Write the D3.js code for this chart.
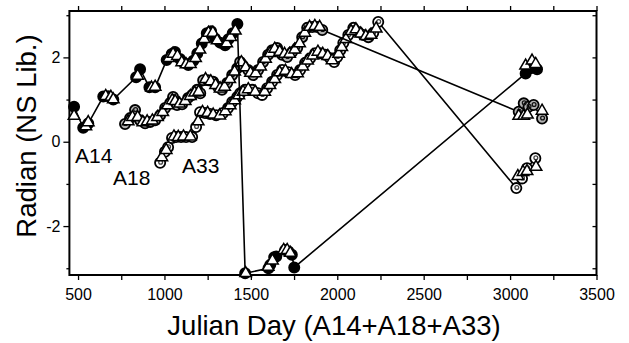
<!DOCTYPE html>
<html>
<head>
<meta charset="utf-8">
<script src="https://cdn.jsdelivr.net/npm/d3@7"></script>
<style>
    body { margin: 0; background: #fff; }
    svg text { font-family: "Liberation Sans", Arial, Helvetica, sans-serif; fill: #000; }
</style>
</head>
<body>
<svg id="chart" width="629" height="343"></svg>
<script>
// A14 (filled circles) : [julian day, radian]
const a14Circles = [[477,0.83],[530,0.33],[559,0.43],[646,1.07],[675,1.08],[704,1.0],[836,1.53],[859,1.72],[913,1.29],[946,1.29],
    [1013,1.94],[1042,2.08],[1061,2.13],[1090,1.96],[1110,1.88],[1138,1.82],[1167,1.92],[1190,2.09],[1216,2.33],[1245,2.57],
    [1270,2.62],[1293,2.45],[1322,2.35],[1351,2.29],[1370,2.43],[1395,2.57],[1422,2.79],
    [1467,-3.12],[1602,-3.0],[1612,-2.92],[1635,-2.74],[1647,-2.72],[1698,-2.57],[1718,-2.6],[1737,-2.68],[1751,-2.98],
    [3090,1.62],[3119,1.74],[3156,1.72]];
const a14Triangles = [[477,0.63],[545,0.38],[559,0.48],[660,1.1],[690,1.08],[704,1.02],[845,1.58],[925,1.3],[946,1.32],
    [1025,2.0],[1050,2.1],[1075,2.05],[1100,1.9],[1125,1.85],[1150,1.86],[1180,2.0],[1205,2.2],[1230,2.45],[1255,2.6],
    [1280,2.6],[1305,2.42],[1360,2.35],[1383,2.5],[1410,2.65],
    [1470,-3.1],[1600,-2.95],[1625,-2.8],[1690,-2.55],[1710,-2.55],[1728,-2.62],
    [3090,1.82],[3127,1.94],[3148,1.86]];

// A18 (hatched circles)
const a18Circles = [[772,0.42],[801,0.56],[830,0.75],[859,0.51],[888,0.44],[917,0.47],[946,0.51],[975,0.63],[1004,0.8],
    [1033,0.92],[1050,1.06],[1073,0.87],[1102,0.89],[1137,1.04],[1160,1.11],[1189,1.23],[1207,1.15],[1224,1.46],[1253,1.46],
    [1282,1.42],[1310,1.3],[1333,1.23],[1363,1.39],[1392,1.58],[1421,1.74],[1438,1.89],[1455,1.8],[1484,1.7],[1513,1.58],
    [1542,1.7],[1571,1.89],[1600,2.06],[1623,2.17],[1652,2.22],[1681,2.06],[1710,2.01],[1739,2.13],[1768,2.22],[1797,2.48],
    [1826,2.7],[1855,2.72],[1884,2.72],[1913,2.65],
    [3050,0.71],[3079,0.91],[3107,0.83],[3136,0.87],[3185,0.55]];
const a18Triangles = [[790,0.5],[815,0.6],[845,0.6],[875,0.48],[900,0.5],[930,0.52],[960,0.6],[990,0.72],[1018,0.88],
    [1045,1.0],[1062,0.98],[1088,0.92],[1120,0.98],[1150,1.1],[1175,1.18],[1198,1.2],[1238,1.5],[1268,1.45],[1296,1.36],
    [1322,1.28],[1348,1.32],[1378,1.5],[1406,1.68],[1445,1.9],[1470,1.78],[1498,1.65],[1528,1.64],[1556,1.8],[1585,1.98],
    [1612,2.12],[1638,2.22],[1667,2.15],[1695,2.1],[1724,2.1],[1754,2.2],[1782,2.35],[1812,2.6],[1840,2.74],[1870,2.76],
    [1898,2.74],[3050,0.63],[3079,0.63],[3100,0.66],[3185,0.75]];

// A33 (open circles)
const a33Circles = [[975,-0.5],[1003,-0.24],[1021,-0.13],[1044,0.09],[1067,0.11],[1096,0.11],[1125,0.11],[1160,0.11],
    [1183,0.35],[1206,0.7],[1235,0.68],[1264,0.66],[1299,0.63],[1339,0.68],[1368,0.8],[1392,0.94],[1421,1.06],[1438,1.15],
    [1467,1.23],[1507,1.23],[1542,1.15],[1565,1.11],[1594,1.27],[1623,1.42],[1652,1.58],[1681,1.7],[1716,1.65],[1756,1.58],
    [1785,1.7],[1814,1.87],[1843,1.98],[1872,2.1],[1901,2.1],[1930,2.06],[1959,1.98],[1982,1.89],[2000,2.01],[2017,2.17],
    [2035,2.34],[2064,2.53],[2093,2.7],[2122,2.6],[2151,2.53],[2180,2.48],[2208,2.58],[2237,2.84],
    [3036,-1.1],[3069,-0.87],[3098,-0.63],[3146,-0.39]];
const a33Triangles = [[985,-0.35],[1010,-0.18],[1055,0.14],[1080,0.13],[1110,0.14],[1150,0.14],[1195,0.5],[1220,0.72],
    [1250,0.7],[1282,0.66],[1320,0.64],[1352,0.74],[1380,0.88],[1406,1.0],[1430,1.12],[1455,1.2],[1485,1.26],[1525,1.2],
    [1580,1.2],[1610,1.36],[1638,1.5],[1667,1.66],[1700,1.7],[1736,1.62],[1770,1.64],[1800,1.8],[1828,1.94],[1858,2.06],
    [1888,2.15],[1916,2.1],[1945,2.05],[1970,1.95],[2008,2.1],[2026,2.26],[2050,2.45],[2080,2.64],[2108,2.68],[2136,2.58],
    [2165,2.52],[2195,2.55],[2225,2.7],[3045,-0.8],[3075,-0.7],[3098,-0.68],[3150,-0.58]];

const xTicks = [500, 1000, 1500, 2000, 2500, 3000, 3500];
const yTicks = [-2, 0, 2];
const seriesLabels = ['A14', 'A18', 'A33'];

let svg = d3.select('#chart');
const x = d3.scaleLinear().domain([450, 3500]).range([69.4, 596.5]);
const y = d3.scaleLinear().domain([-3.16, 3.1]).range([275, 11]);

// axes: labelled majors and short minors
const minorX = d3.range(500, 3501, 250);
const minorY = [-3, -1, 1, 3];

svg.append('g').attr('transform', 'translate(0,275)')
    .call(d3.axisBottom(x).tickValues(minorX).tickSize(5).tickFormat(d => xTicks.includes(d) ? d : ''));
svg.append('g').attr('transform', 'translate(0,11)')
    .call(d3.axisTop(x).tickValues(minorX).tickSize(5).tickFormat(''));
svg.append('g').attr('transform', 'translate(69.4,0)')
    .call(d3.axisLeft(y).tickValues(yTicks).tickSize(6).tickFormat(d => String(d)));
svg.append('g').attr('transform', 'translate(69.4,0)')
    .call(d3.axisLeft(y).tickValues(minorY).tickSize(3).tickFormat(''));
svg.append('g').attr('transform', 'translate(596.5,0)')
    .call(d3.axisRight(y).tickValues(yTicks.concat(minorY)).tickSize(-4).tickFormat(''));

svg.selectAll('.domain').remove();
svg.selectAll('.tick line').attr('stroke', '#000').attr('stroke-width', 1.3);
svg.selectAll('.tick text').attr('font-size', 16).attr('fill', '#000');
svg.selectAll('.tick text').filter(function () { return this.parentNode.parentNode.getAttribute('transform') === 'translate(0,275)'; })
    .attr('dy', '1.05em');

svg.append('rect')
    .attr('x', 69.4).attr('y', 11)
    .attr('width', 596.5 - 69.4).attr('height', 275 - 11)
    .attr('fill', 'none').attr('stroke', '#000').attr('stroke-width', 2);

const line = d3.line().x(d => x(d[0])).y(d => y(d[1]));

function drawSeries(circles, triangles, circleFill, innerDot) {
    svg.append('path').datum(circles)
        .attr('d', line).attr('fill', 'none').attr('stroke', '#000').attr('stroke-width', 1.6);

    let g = svg.append('g');
    g.selectAll('circle.pt').data(circles).enter().append('circle')
        .attr('class', 'pt')
        .attr('cx', d => x(d[0])).attr('cy', d => y(d[1])).attr('r', 5.1)
        .attr('fill', circleFill).attr('stroke', '#000').attr('stroke-width', 1.8);
    if (innerDot) {
        g.selectAll('circle.dot').data(circles).enter().append('circle')
            .attr('class', 'dot')
            .attr('cx', d => x(d[0]) + 0.5).attr('cy', d => y(d[1]) - 0.5).attr('r', 1.9)
            .attr('fill', 'none').attr('stroke', innerDot).attr('stroke-width', 1.3);
    }
    g.selectAll('path.tri').data(triangles).enter().append('path')
        .attr('class', 'tri')
        .attr('d', d3.symbol().type(d3.symbolTriangle).size(58))
        .attr('transform', d => 'translate(' + x(d[0]) + ',' + (y(d[1]) + 0.8) + ')')
        .attr('fill', '#fff').attr('stroke', '#000').attr('stroke-width', 1.5);
}

drawSeries(a33Circles, a33Triangles, '#fff', '#444');
drawSeries(a18Circles, a18Triangles, '#b0b0b0', '#111');
drawSeries(a14Circles, a14Triangles, '#000', null);

// series names
svg.append('text').attr('x', 75).attr('y', 163).attr('font-size', 21).text(seriesLabels[0]);
svg.append('text').attr('x', 113).attr('y', 185).attr('font-size', 21).text(seriesLabels[1]);
svg.append('text').attr('x', 182).attr('y', 173).attr('font-size', 21).text(seriesLabels[2]);

// axis titles
svg.append('text')
    .attr('x', 334).attr('y', 335)
    .attr('text-anchor', 'middle').attr('font-size', 27.5)
    .text('Julian Day (A14+A18+A33)');
svg.append('text')
    .attr('transform', 'translate(36,136) rotate(-90)')
    .attr('text-anchor', 'middle').attr('font-size', 27.5)
    .text('Radian (NS Lib.)');
</script>
</body>
</html>
